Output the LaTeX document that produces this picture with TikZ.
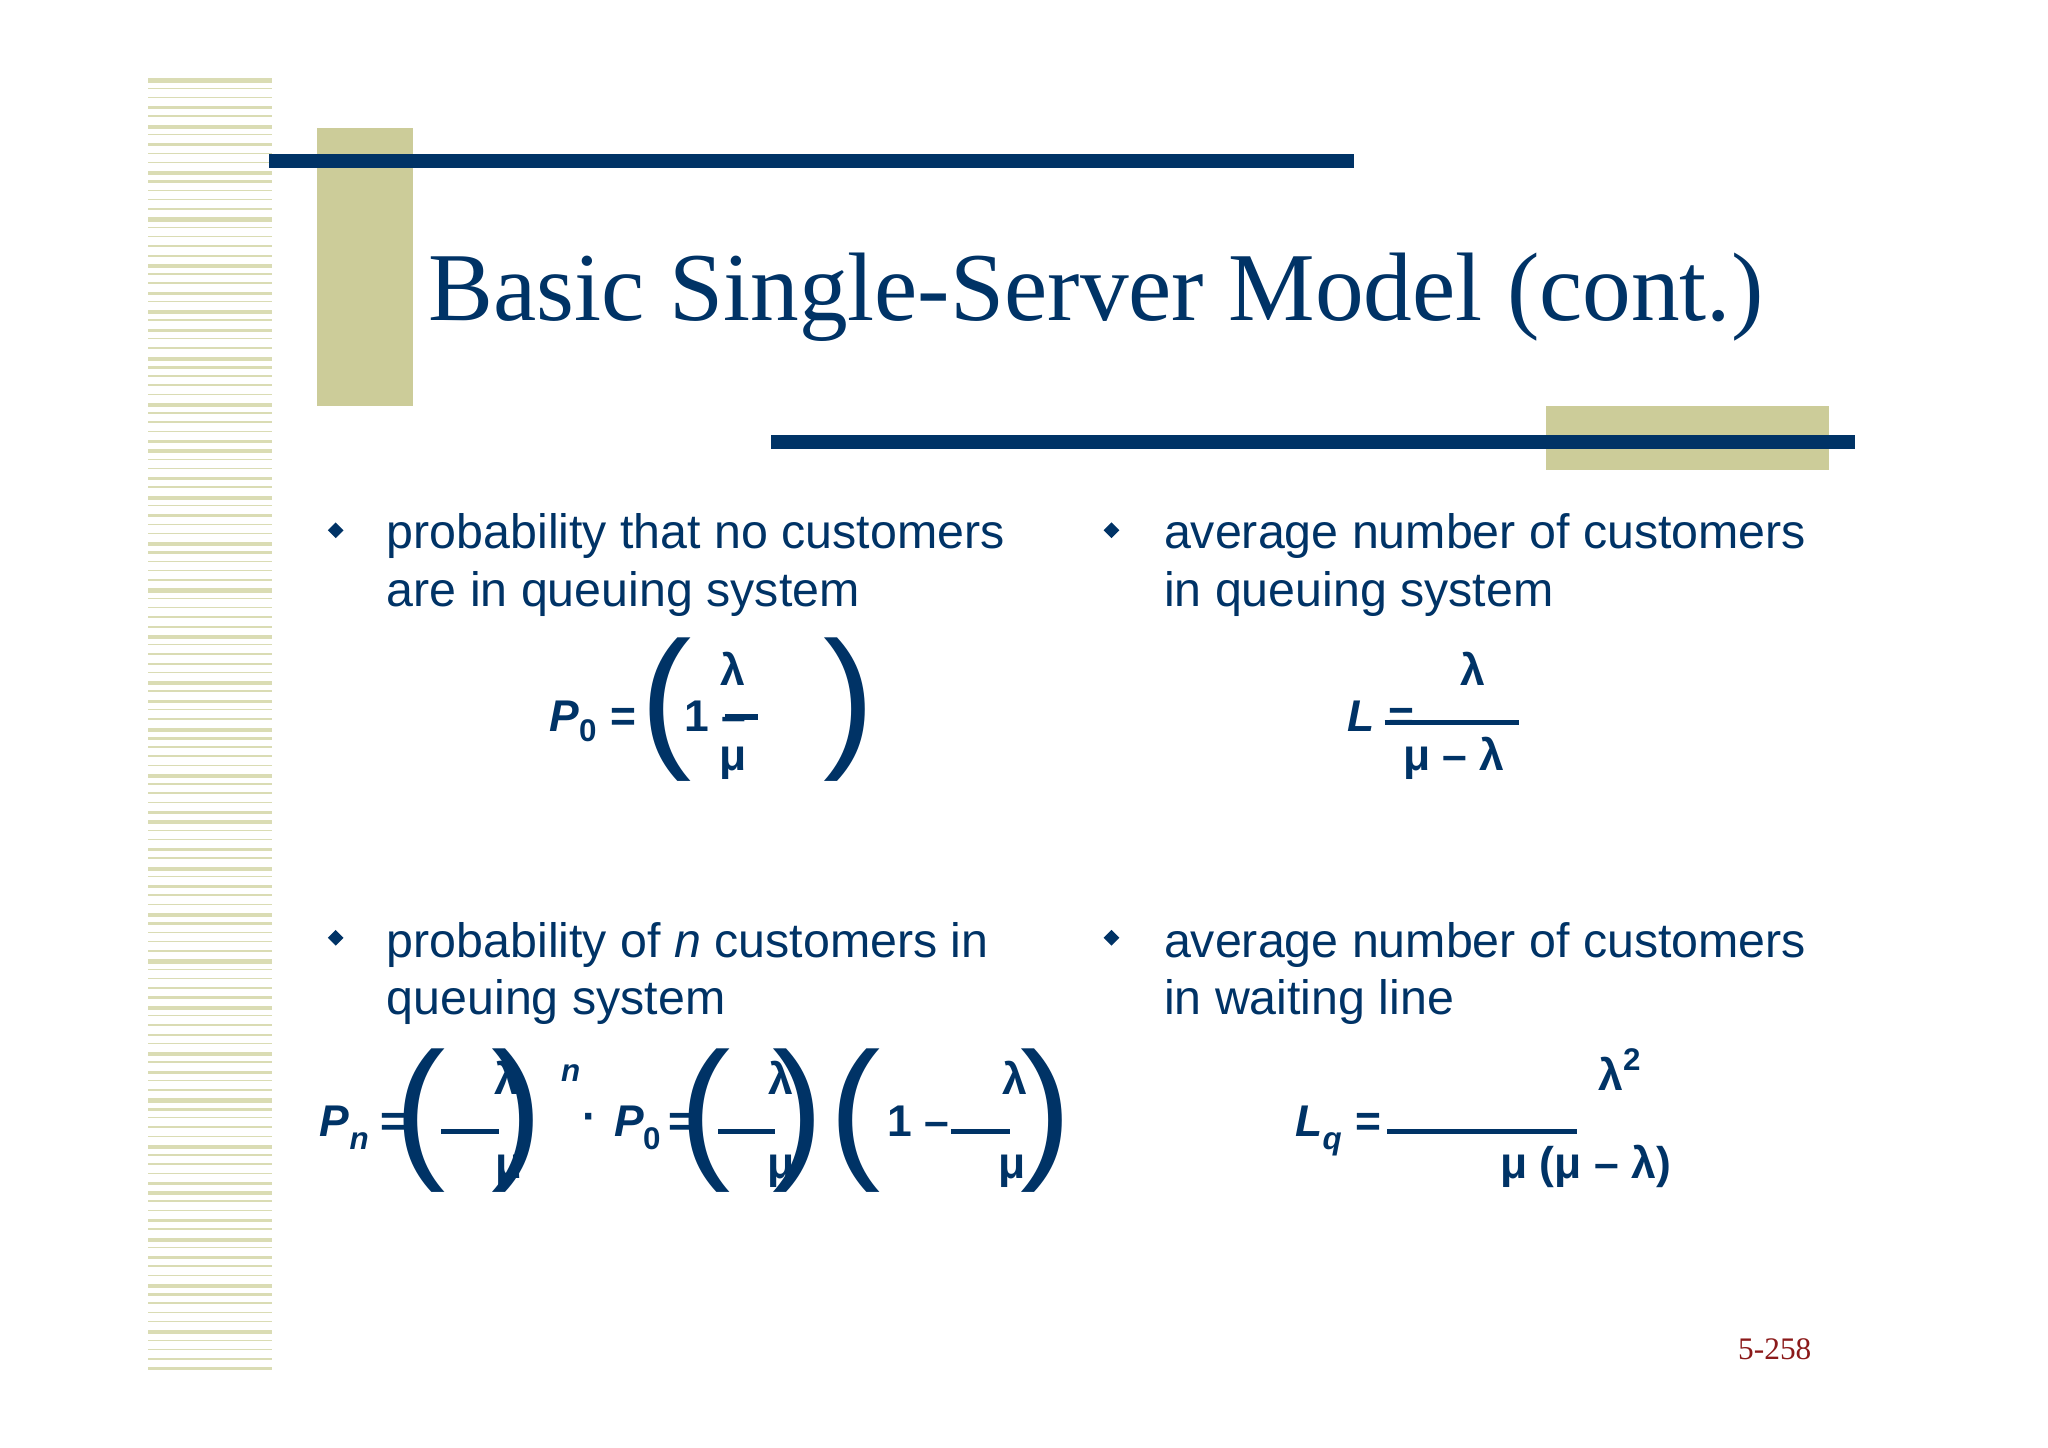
\documentclass[tikz,border=0pt]{standalone}
\usepackage{fontspec}
\setmainfont{Liberation Sans}
\newfontfamily\serifF{Liberation Serif}
\definecolor{navy}{HTML}{003366}
\definecolor{khaki}{HTML}{CCCC99}
\definecolor{stripe}{HTML}{DADCB4}
\definecolor{pgred}{HTML}{8B1A1A}
\begin{document}
\begin{tikzpicture}[x=1pt,y=-1pt,
  body/.style={anchor=base west,inner sep=0pt,text=navy,font=\fontsize{37}{37}\selectfont},
  fm/.style={anchor=base,inner sep=0pt,text=navy,font=\bfseries\fontsize{34}{34}\selectfont},
  sub/.style={anchor=base,inner sep=0pt,text=navy,font=\bfseries\fontsize{24}{24}\selectfont},
  paren/.style={anchor=center,inner sep=0pt,text=navy,font=\fontsize{118}{118}\selectfont},
  bar/.style={navy,line width=4pt}]
\useasboundingbox (0,0) rectangle (1568,1108);
\fill[white] (0,0) rectangle (1568,1108);
% stripes
\foreach \i [evaluate=\i as \y using 60+\i*7.1,
             evaluate=\i as \w using {mod(\i*7,5)==0 ? 3.2 : (mod(\i*3,4)==1 ? 2.2 : 1.1)}] in {0,...,139}
  \fill[stripe] (113,\y) rectangle (208,\y+\w);
% decorations
\fill[khaki] (243,98) rectangle (316,311);
\fill[navy] (206,118) rectangle (1037,129);
\fill[khaki] (1184,311) rectangle (1400,360);
\fill[navy] (590,333) rectangle (1420,344);
\node[anchor=base west,inner sep=0pt,text=navy,font=\serifF\fontsize{74.5}{74.5}\selectfont] (title) at (328,245) {Basic Single-Server Model (cont.)};
% bullets
\foreach \n/\x/\y in {b1/257/406,b2/851/406,b3/257/718,b4/851/718}
  \fill[navy] (\x-6,\y) -- (\x,\y-6) -- (\x+6,\y) -- (\x,\y+6) -- cycle;
\node[body] (t1a) at (296,420) {probability that no customers};
\node[body] (t1b) at (296,464) {are in queuing system};
\node[body] (t2a) at (891,420) {average number of customers};
\node[body] (t2b) at (891,464) {in queuing system};
\node[body] (t3a) at (296,733) {probability of \textit{n} customers in};
\node[body] (t3b) at (296,777) {queuing system};
\node[body] (t4a) at (891,733) {average number of customers};
\node[body] (t4b) at (891,777) {in waiting line};
% P0 formula
\node[fm] (p0) at (432,560) {\itshape P};
\node[sub] (p0s) at (450,568) {0};
\node[fm] (p0e) at (477,560) {=};
\node[paren] (p0l) at (510,543) {(};
\node[fm] (p0one) at (548,560) {1 –};
\draw[bar] (555,549) -- (580,549);
\node[fm] (p0lam) at (561,525) {λ};
\node[fm] (p0mu) at (561,590) {μ};
\node[paren] (p0r) at (650,543) {)};
% L formula
\node[fm] (L) at (1042,560) {\itshape L};
\node[fm] (Le) at (1073,560) {=};
\draw[bar] (1060,553) -- (1163,553);
\node[fm] (Llam) at (1128,525) {λ};
\node[fm] (Lmu) at (1113,590) {μ – λ};
% Pn formula
\node[fm] (pn) at (256,870) {\itshape P};
\node[sub,font=\bfseries\itshape\fontsize{24}{24}\selectfont] (pns) at (275,880) {n};
\node[fm] (pne) at (301,870) {=};
\node[paren] (pnl1) at (322,858) {(};
\draw[bar] (338,866) -- (382,866);
\node[fm] (pnlam1) at (388,838) {λ};
\node[fm] (pnmu1) at (390,902) {μ};
\node[paren] (pnr1) at (396,858) {)};
\node[sub,font=\bfseries\itshape\fontsize{24}{24}\selectfont] (pnn) at (437,828) {n};
\node[fm] (dot) at (452,866) {·};
\node[fm] (pn0) at (482,870) {\itshape P};
\node[sub] (pn0s) at (499,880) {0};
\node[fm] (pn0e) at (522,870) {=};
\node[paren] (pnl2) at (540,858) {(};
\draw[bar] (550,866) -- (593,866);
\node[fm] (pnlam2) at (598,838) {λ};
\node[fm] (pnmu2) at (598,902) {μ};
\node[paren] (pnr2) at (611,858) {)};
\node[paren] (pnl3) at (655,858) {(};
\node[fm] (pnone) at (703,870) {1 –};
\draw[bar] (728,866) -- (773,866);
\node[fm] (pnlam3) at (777,838) {λ};
\node[fm] (pnmu3) at (775,902) {μ};
\node[paren] (pnr3) at (801,858) {)};
% Lq formula
\node[fm] (Lq) at (1002,870) {\itshape L};
\node[sub,font=\bfseries\itshape\fontsize{24}{24}\selectfont] (Lqs) at (1020,880) {q};
\node[fm] (Lqe) at (1048,870) {=};
\draw[bar] (1062,866) -- (1207,866);
\node[fm] (Lqlam) at (1240,835) {λ\raisebox{0.45em}{\fontsize{24}{24}\selectfont 2}};
\node[fm] (Lqmu) at (1214,902) {μ (μ – λ)};
% page number
\node[anchor=base east,inner sep=0pt,text=pgred,font=\serifF\fontsize{24}{24}\selectfont] (pg) at (1387,1041) {5-258};
\end{tikzpicture}
\end{document}
